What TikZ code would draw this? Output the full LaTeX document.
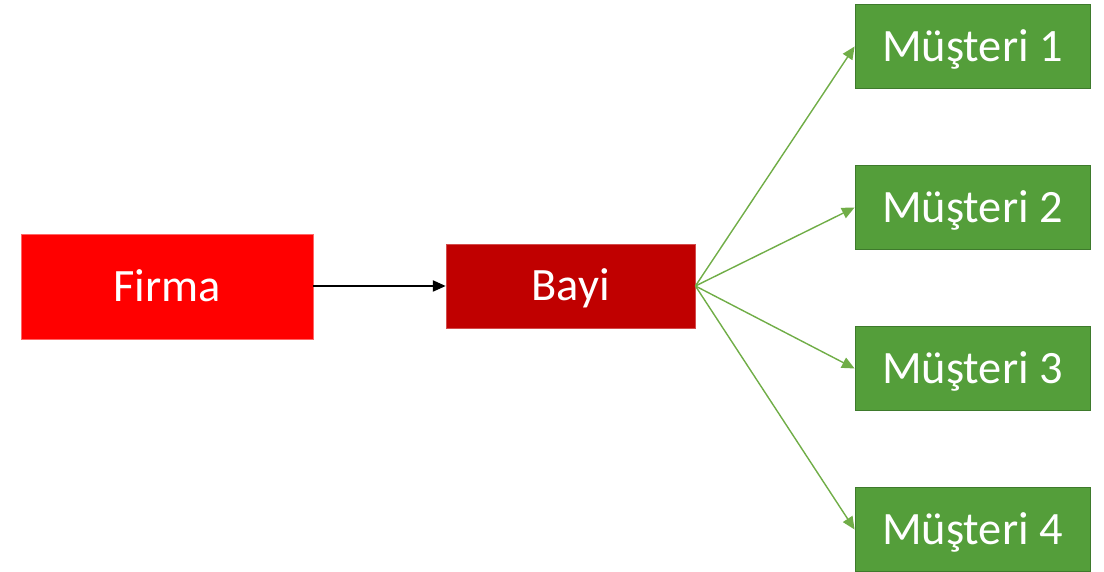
\documentclass[tikz,border=0pt]{standalone}
\usepackage{fontspec}
\setmainfont{Carlito}
\usetikzlibrary{positioning,arrows.meta}

\definecolor{firmared}{RGB}{255,0,0}
\definecolor{bayired}{RGB}{192,0,0}
\definecolor{musgreen}{RGB}{84,158,58}
\definecolor{musedge}{RGB}{62,122,44}
\definecolor{linkgreen}{RGB}{112,173,71}

\begin{document}
\begin{tikzpicture}[
box/.style={
  draw,
  line width=0.6pt,
  text=white,
  font=\fontsize{33}{40}\selectfont,
  text height=21pt,
  text depth=0pt,
  inner sep=0pt
  },
firma/.style={box,fill=firmared,draw=firmared!60,
  minimum width=7.3cm,minimum height=2.625cm
  },
bayi/.style={box,fill=bayired,draw=bayired!70,
  minimum width=6.225cm,minimum height=2.1cm
  },
musteri/.style={box,fill=musgreen,draw=musedge,
  minimum width=5.875cm,minimum height=2.1cm
  },
link/.style={draw=linkgreen,line width=1pt,
  -{Triangle[length=9pt,width=8pt]}
  }]
\useasboundingbox (0,0) rectangle (27.6,14.3);

\node [firma] (firma) at (4.175,7.13) {Firma};
\node [bayi] (bayi) at (14.2625,7.15) {Bayi};

\foreach \m/\y in {1/13.1375,2/9.1125,3/5.0875,4/1.0625}
  \node [musteri] (mus-\m) at (24.3125,\y) {Müşteri \m};

\draw[-{Triangle[length=9pt,width=8pt]},line width=0.75pt] (firma.east |- bayi) -- (bayi);

\foreach \m in {1,...,4}
  \draw[link] (bayi.east) -- (mus-\m.west);

\end{tikzpicture}
\end{document}
